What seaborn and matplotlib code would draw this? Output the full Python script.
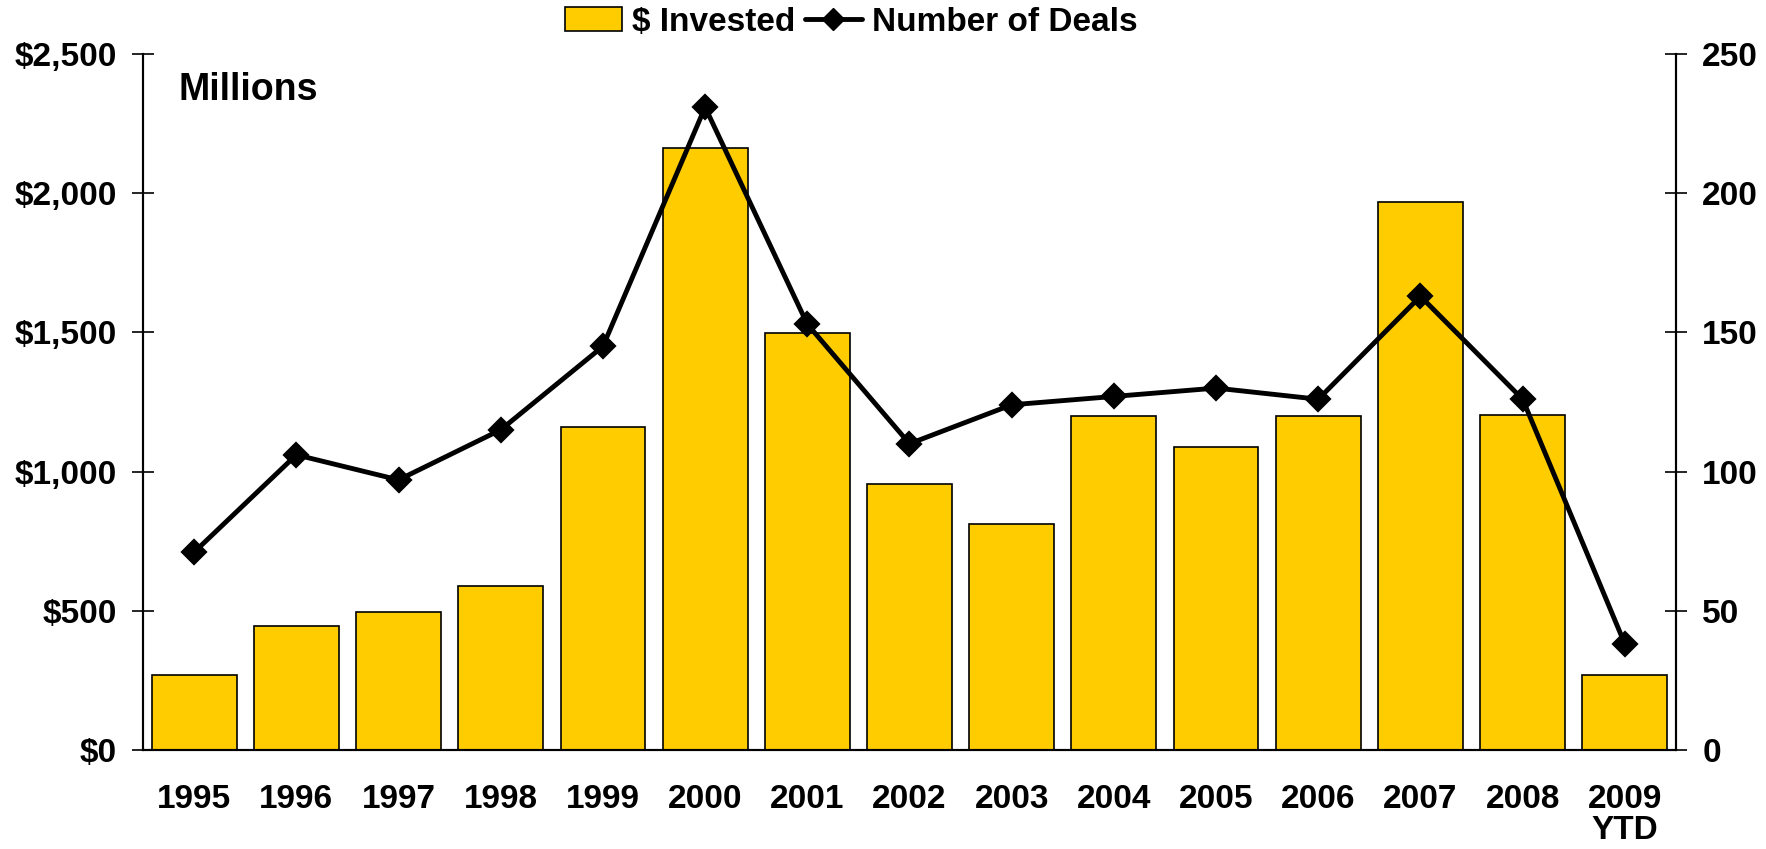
import matplotlib.pyplot as plt
import numpy as np
import pandas as pd
import seaborn as sns
from matplotlib.lines import Line2D
from matplotlib.patches import Patch
from matplotlib.ticker import FuncFormatter

years = ["1995", "1996", "1997", "1998", "1999", "2000", "2001", "2002",
         "2003", "2004", "2005", "2006", "2007", "2008", "2009\nYTD"]
invested = [270, 445, 494, 587, 1161, 2164, 1497, 955, 813, 1201, 1088, 1201, 1970, 1205, 267]
deals = [71, 106, 97, 115, 145, 231, 153, 110, 124, 127, 130, 126, 163, 126, 38]

df = pd.DataFrame({"year": years, "invested": invested, "deals": deals})

sns.set_style("white")
plt.rcParams["font.family"] = ["Liberation Sans", "DejaVu Sans"]
plt.rcParams["font.weight"] = "bold"
plt.rcParams["text.color"] = "black"
plt.rcParams["xtick.color"] = "black"
plt.rcParams["ytick.color"] = "black"

fig = plt.figure(figsize=(17.66, 8.49), dpi=100)
ax = fig.add_axes([0.081, 0.117, 0.868, 0.819])

sns.barplot(data=df, x="year", y="invested", color="#FFCC00", saturation=1,
            edgecolor="black", linewidth=1.2, width=0.83, ax=ax)

ax2 = ax.twinx()
sns.pointplot(data=df, x="year", y="deals", color="black", markers="D",
              linestyles="-", markersize=11, linewidth=3.5, ax=ax2)

n = len(years)
for a in (ax, ax2):
    a.set_xlim(-0.5, n - 0.5)
    a.set_xlabel("")
    a.set_ylabel("")
    a.spines["top"].set_visible(False)

ax.set_ylim(0, 2500)
ax.set_yticks(np.arange(0, 2501, 500))
ax.yaxis.set_major_formatter(FuncFormatter(lambda v, p: f"${v:,.0f}"))
ax2.set_ylim(0, 250)
ax2.set_yticks(np.arange(0, 251, 50))

# boundaries between years carry the ticks, labels sit at the centres
ax.set_xticks(np.arange(-0.5, n, 1.0))
ax.set_xticklabels([])
ax.set_xticks(np.arange(n), minor=True)
ax.set_xticklabels(years, minor=True, fontsize=24, fontweight="bold")
for lab in ax.get_xticklabels(minor=True):
    lab.set_linespacing(1.0)
ax.tick_params(axis="x", which="major", direction="inout", length=18, width=1.2)
ax.tick_params(axis="x", which="minor", length=0, pad=25)
ax.tick_params(axis="y", direction="inout", length=16, width=1.2, labelsize=24, pad=11)
ax2.tick_params(axis="y", direction="inout", length=16, width=1.2, labelsize=24, pad=11)
ax2.tick_params(axis="x", which="both", length=0, labelbottom=False)
for a in (ax, ax2):
    for lab in a.get_yticklabels():
        lab.set_fontweight("bold")
    for s in ("left", "right", "bottom"):
        a.spines[s].set_linewidth(1.5)
        a.spines[s].set_color("black")

ax.text(0.023, 0.948, "Millions", transform=ax.transAxes, fontsize=27,
        fontweight="bold", va="center", ha="left")

handles = [
    Patch(facecolor="#FFCC00", edgecolor="black", linewidth=1.2),
    Line2D([0], [0], color="black", linewidth=3.5, marker="D", markersize=11),
]
fig.legend(handles, ["$ Invested", "Number of Deals"], loc="center",
           bbox_to_anchor=(0.482, 0.974), ncol=2, frameon=False,
           handlelength=1.7, handletextpad=0.3, columnspacing=0.3,
           prop={"weight": "bold", "size": 24})

fig.savefig("out.png", dpi=100)
